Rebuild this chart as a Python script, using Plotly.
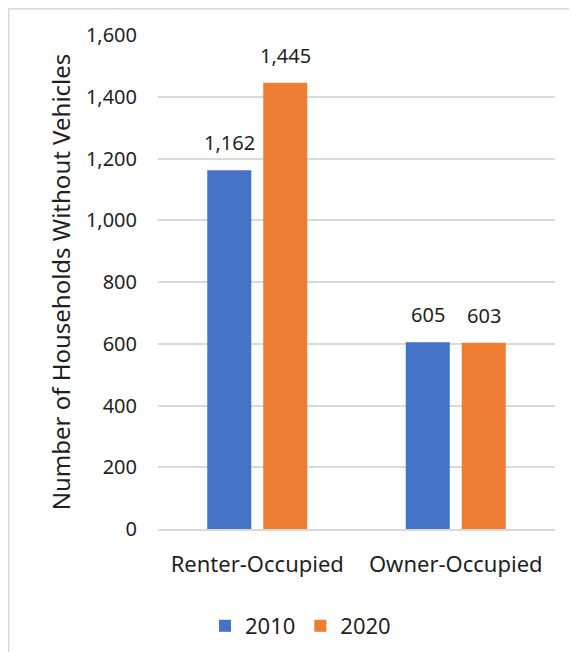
import plotly.graph_objects as go

categories = ["Renter-Occupied", "Owner-Occupied"]
series_names = ["2010", "2020"]
values_2010 = [1162, 605]
values_2020 = [1445, 603]
y_ticks = [0, 200, 400, 600, 800, 1000, 1200, 1400, 1600]
colors = ["#4472C4", "#ED7D31"]

FONT = "Noto Sans"
TXT = "#1f1f1f"

# page has an 8px body margin; figure origin sits at page (8, 8)
OFF = 8
W, H = 577 - OFF, 652 - OFF
L, R, T, B = 158 - OFF, 22, 35 - OFF, 123
pw = W - L - R
ph = H - T - B

def px_x(px):
    return (px - OFF - L) / pw

def px_y(py):
    return (H - B - (py - OFF)) / ph

fig = go.Figure()
for name, vals, col in zip(series_names, [values_2010, values_2020], colors):
    fig.add_trace(go.Bar(
        x=categories, y=vals, name=name,
        marker=dict(color=col, line=dict(width=0)),
    ))

# data labels placed at each bar's value
for vals, shift in zip([values_2010, values_2020], [-28, 28]):
    for cat, v in zip(categories, vals):
        fig.add_annotation(x=cat, y=v, text=f"{v:,}", showarrow=False,
                           xref="x", yref="y", xshift=shift, yshift=12,
                           yanchor="bottom", xanchor="center",
                           font=dict(family=FONT, size=20, color=TXT))

fig.update_layout(
    width=W, height=H,
    margin=dict(l=L, r=R, t=T, b=B, autoexpand=False),
    paper_bgcolor="white", plot_bgcolor="white",
    font=dict(family=FONT, size=20, color=TXT),
    barmode="group", bargap=0.436, bargroupgap=0.214,
    showlegend=True,
    legend=dict(orientation="h", x=px_x(205), xanchor="left",
                y=px_y(626), yanchor="middle",
                font=dict(family=FONT, size=22, color=TXT),
                itemwidth=30, traceorder="normal"),
)
fig.update_xaxes(showgrid=False, showline=True, linecolor="#d9d9d9", linewidth=1.5,
                 ticks="", ticklabelstandoff=15, automargin=False,
                 tickfont=dict(family=FONT, size=22, color=TXT))
fig.update_yaxes(range=[0, 1600], tickvals=y_ticks, tickformat=",",
                 showgrid=True, gridcolor="#d9d9d9", gridwidth=1.5,
                 zeroline=False, showline=False, ticks="", automargin=False,
                 ticklabelstandoff=20,
                 tickfont=dict(family=FONT, size=20, color=TXT),
                 title=dict(text="Number of Households Without Vehicles",
                            font=dict(family=FONT, size=24, color=TXT),
                            standoff=8))

fig.add_shape(type="rect", xref="paper", yref="paper",
              x0=px_x(OFF + 0.75), x1=px_x(600), y0=px_y(680), y1=px_y(OFF + 0.75),
              line=dict(color="#d9d9d9", width=1.5), fillcolor="rgba(0,0,0,0)",
              layer="below")

fig.write_html("out.html")
